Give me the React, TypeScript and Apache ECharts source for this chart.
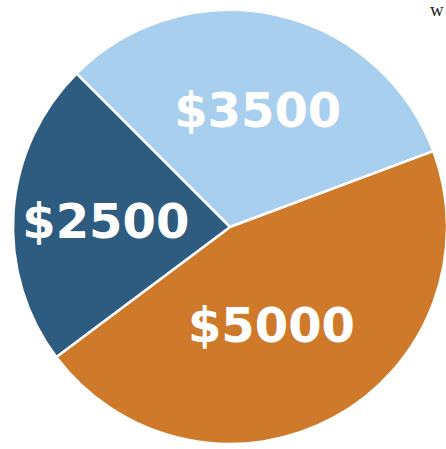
import React, { useEffect, useRef } from "react";
import * as echarts from "echarts";

const categories = ["Light", "Orange", "Dark"];
const values = [3500, 5000, 2500];
const labels = ["$3500", "$5000", "$2500"];
const colors = ["#a9cfef", "#cf7a2b", "#2e5b80"];
const labelShift = [
  [4, -8],
  [-12, 0],
  [-13, 2],
];

export default function App() {
  const ref = useRef<HTMLDivElement>(null);
  useEffect(() => {
    if (!ref.current) return;
    const chart = echarts.init(ref.current, null, { renderer: "svg" });
    chart.setOption({
      animation: false,
      backgroundColor: "#ffffff",
      graphic: [
        {
          type: "text",
          left: 430,
          top: 0,
          style: { text: "w", font: "19px 'Liberation Serif', serif", fill: "#222" },
        },
      ],
      series: [
        {
          type: "pie",
          center: [230, 227],
          radius: [0, 217],
          startAngle: 135,
          clockwise: true,
          silent: true,
          data: categories.map((c, i) => ({
            name: c,
            value: values[i],
            itemStyle: { color: colors[i] },
            label: { formatter: labels[i], offset: labelShift[i] },
          })),
          itemStyle: { borderColor: "#ffffff", borderWidth: 2.5 },
          label: {
            show: true,
            position: "inside",
            color: "#ffffff",
            fontFamily: "'DejaVu Sans', sans-serif",
            fontWeight: "bold",
            fontSize: 48,
          },
          labelLine: { show: false },
        },
      ],
    });
    return () => chart.dispose();
  }, []);
  return (
    <div
      ref={ref}
      style={{ position: "fixed", left: 0, top: 0, width: 446, height: 449 }}
    />
  );
}
